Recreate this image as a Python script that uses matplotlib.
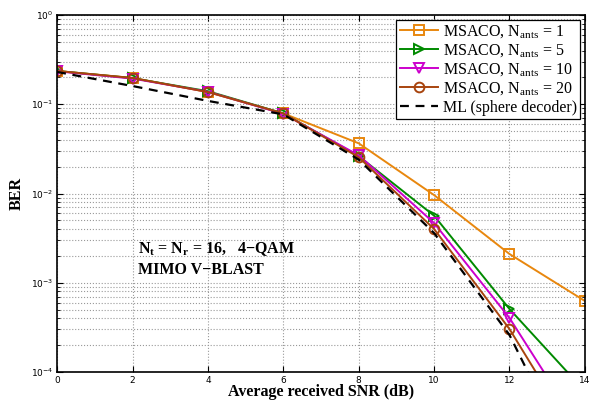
import matplotlib
matplotlib.use("Agg")
import matplotlib.pyplot as plt
from matplotlib.ticker import LogLocator, NullFormatter

plt.rcParams["mathtext.fontset"] = "custom"
plt.rcParams["mathtext.rm"] = "Liberation Serif"
plt.rcParams["mathtext.it"] = "Liberation Serif:italic"
plt.rcParams["mathtext.bf"] = "Liberation Serif:bold"

# BER vs SNR for MSACO detectors with different ant counts and the ML bound
snr_db = [0, 2, 4, 6, 8, 10, 12, 14]
ber_ants1 = [0.236, 0.197, 0.137, 0.079, 0.0365, 0.0096, 0.0021, 0.000625]
ber_ants5 = [0.236, 0.196, 0.140, 0.079, 0.0262, 0.00564, 0.000508, 0.000061]
ber_ants10 = [0.234, 0.194, 0.138, 0.078, 0.0268, 0.00467, 0.000403, 0.000019]
ber_ants20 = [0.236, 0.197, 0.137, 0.079, 0.0255, 0.0040, 0.000303, 0.0000127]
ber_ml = [0.230, 0.160, 0.109, 0.077, 0.0240, 0.0036, 0.00026, 0.0000052]

series = [
    (ber_ants1, "#E8870E", "s", r"MSACO, N$_{\rm ants}$ = 1"),
    (ber_ants5, "#008A00", ">", r"MSACO, N$_{\rm ants}$ = 5"),
    (ber_ants10, "#CC00CC", "v", r"MSACO, N$_{\rm ants}$ = 10"),
    (ber_ants20, "#A8440E", "o", r"MSACO, N$_{\rm ants}$ = 20"),
]

fig = plt.figure(figsize=(5.89, 4.0), dpi=100)
ax = fig.add_axes([0.097, 0.07, 0.896, 0.8925])

for vals, color, marker, label in series:
    ax.semilogy(snr_db, vals, color=color, marker=marker, markersize=7,
                markerfacecolor="none", markeredgewidth=1.4, linewidth=1.4,
                label=label)
ax.semilogy(snr_db, ber_ml, "k--", linewidth=1.6, dashes=(4, 3),
            label="ML (sphere decoder)")

ax.set_xlim(0, 14)
ax.set_ylim(1e-4, 1)
ax.set_xticks(snr_db)
ax.yaxis.set_major_locator(LogLocator(base=10, numticks=10))
ax.yaxis.set_minor_locator(LogLocator(base=10, subs=range(2, 10), numticks=20))
ax.yaxis.set_minor_formatter(NullFormatter())

ax.grid(True, which="major", linestyle=":", color="#999999", linewidth=0.8)
ax.grid(True, which="minor", axis="y", linestyle=":", color="#999999",
        linewidth=0.8)
ax.tick_params(which="both", direction="in", top=True, right=True,
               labelsize=6.5, pad=3)
ax.tick_params(which="major", length=4)
ax.tick_params(which="minor", length=2)
for side in ax.spines.values():
    side.set_linewidth(1.2)

ax.set_xlabel("Average received SNR (dB)", family="Liberation Serif",
              fontweight="bold", fontsize=11.5, labelpad=-1)
ax.set_ylabel("BER", family="Liberation Serif", fontweight="bold",
              fontsize=11.5, labelpad=4)

ax.text(2.15, 10 ** -2.667,
        r"N$_\mathbf{t}$ = N$_\mathbf{r}$ = 16,   4" + "\u2212" + "QAM",
        family="Liberation Serif", fontweight="bold", fontsize=11.5,
        va="baseline")
ax.text(2.15, 10 ** -2.857, "MIMO V\u2212BLAST", family="Liberation Serif",
        fontweight="bold", fontsize=11.5, va="center")

leg = ax.legend(loc="upper right", prop={"family": "Liberation Serif",
                                         "size": 11.5},
                fancybox=False, edgecolor="black", framealpha=1,
                borderpad=0.2, labelspacing=0.15, handlelength=2.4,
                handletextpad=0.3, borderaxespad=0.3)
leg.get_frame().set_linewidth(0.9)

fig.savefig("out.png", dpi=100)
